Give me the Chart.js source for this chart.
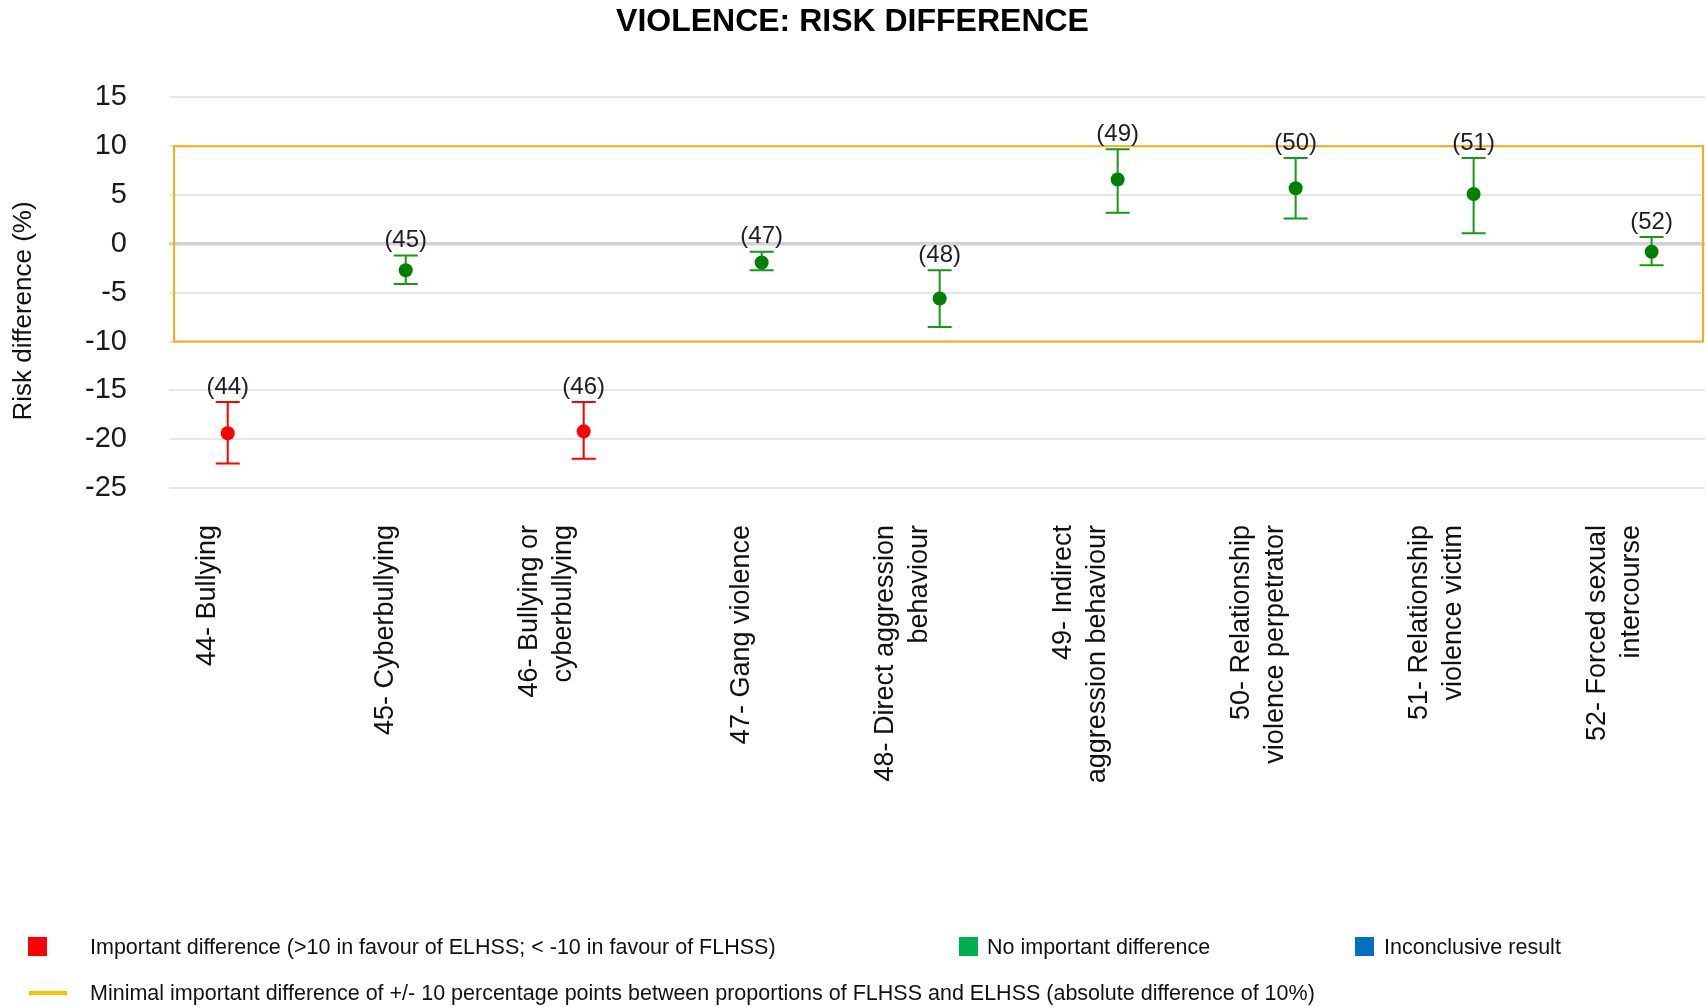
<!DOCTYPE html>
<html>
<head>
<meta charset="utf-8">
<title>Violence: risk difference</title>
<script src="https://cdn.jsdelivr.net/npm/chart.js@4"></script>
<style>
    body { margin: 0; background: #fff; }
    #wrap { width: 1705px; height: 1007px; position: relative; }
</style>
</head>
<body>
<div id="wrap"><canvas id="riskChart"></canvas></div>
<script>
// Indicadores de violencia (codigo + nombre, en varias lineas)
const codes = [44, 45, 46, 47, 48, 49, 50, 51, 52];
const names = [
    ['44- Bullying'],
    ['45- Cyberbullying'],
    ['46- Bullying or', 'cyberbullying'],
    ['47- Gang violence'],
    ['48- Direct aggression', 'behaviour'],
    ['49- Indirect', 'aggression behaviour'],
    ['50- Relationship', 'violence perpetrator'],
    ['51- Relationship', 'violence victim'],
    ['52- Forced sexual', 'intercourse']
];

// Diferencia de riesgo (%) con su intervalo de confianza
const riskDiff = [-19.4, -2.7, -19.2, -1.9, -5.6, 6.6, 5.7, 5.1, -0.8];
const ciLower  = [-22.5, -4.1, -22.0, -2.7, -8.5, 3.2, 2.6, 1.1, -2.2];
const ciUpper  = [-16.2, -1.2, -16.2, -0.8, -2.7, 9.7, 8.8, 8.8, 0.7];

const yTicks = [15, 10, 5, 0, -5, -10, -15, -20, -25];
const MID = 10; // diferencia minima importante (+/-)

const yTitle = 'Risk difference (%)';
const legendItems = [
    'Important difference (>10 in favour of ELHSS; < -10 in favour of FLHSS)',
    'No important difference',
    'Inconclusive result',
    'Minimal important difference of +/- 10 percentage points between proportions of FLHSS and ELHSS (absolute difference of 10%)'
];

const RED = '#ff0000';
const GREEN = '#159a15';
const GREEN_DOT = '#008000';
const FONT = "'Liberation Sans', Arial, sans-serif";

function statusColor(i, dot) {
    if (ciUpper[i] < -MID || ciLower[i] > MID) return RED;
    if (ciLower[i] >= -MID && ciUpper[i] <= MID) return dot ? GREEN_DOT : GREEN;
    return '#0070c0';
}

const points = codes.map((c, i) => ({ x: i, y: riskDiff[i] }));

// caja naranja +/- MID, barras de error y etiquetas (nn)
const intervalPlugin = {
    id: 'intervals',
    beforeDatasetsDraw(chart) {
        const { ctx, chartArea, scales: { x, y } } = chart;
        ctx.save();
        ctx.strokeStyle = '#ffab0f';
        ctx.lineWidth = 2;
        const top = y.getPixelForValue(MID);
        const bottom = y.getPixelForValue(-MID);
        ctx.strokeRect(chartArea.left + 5, top, chartArea.right - chartArea.left - 7, bottom - top);

        codes.forEach((c, i) => {
            const px = x.getPixelForValue(i);
            const yLo = y.getPixelForValue(ciLower[i]);
            const yHi = y.getPixelForValue(ciUpper[i]);
            ctx.strokeStyle = statusColor(i, false);
            ctx.lineWidth = 2;
            ctx.beginPath();
            ctx.moveTo(px, yHi); ctx.lineTo(px, yLo);
            ctx.moveTo(px - 12, yHi); ctx.lineTo(px + 12, yHi);
            ctx.moveTo(px - 12, yLo); ctx.lineTo(px + 12, yLo);
            ctx.stroke();

            ctx.fillStyle = '#1c1c2a';
            ctx.font = '24px ' + FONT;
            ctx.textAlign = 'center';
            ctx.textBaseline = 'middle';
            ctx.fillText('(' + c + ')', px, yHi - 15);
        });
        ctx.restore();
    },
    afterDraw(chart) {
        const { ctx, chartArea, scales: { x } } = chart;
        ctx.save();
        // titulo del eje Y
        ctx.fillStyle = '#111';
        ctx.font = '26px ' + FONT;
        ctx.textAlign = 'center';
        ctx.textBaseline = 'middle';
        ctx.save();
        ctx.translate(24, 311);
        ctx.rotate(-Math.PI / 2);
        ctx.fillText(yTitle, 0, 0);
        ctx.restore();

        // nombres de las categorias, rotados
        ctx.font = '27px ' + FONT;
        ctx.textAlign = 'right';
        names.forEach((lines, i) => {
            const px = x.getPixelForValue(i);
            lines.forEach((line, j) => {
                const lx = px - 20 - (lines.length - 1 - j) * 34;
                ctx.save();
                ctx.translate(lx, chartArea.bottom + 37);
                ctx.rotate(-Math.PI / 2);
                ctx.fillText(line, 0, 0);
                ctx.restore();
            });
        });

        // leyenda
        ctx.font = '21.5px ' + FONT;
        ctx.textAlign = 'left';
        const boxes = [[28, RED, 90], [959, '#00b050', 987], [1355, '#0070c0', 1384]];
        boxes.forEach(([bx, color, tx], k) => {
            ctx.fillStyle = color;
            ctx.fillRect(bx, 937, 19, 19);
            ctx.fillStyle = '#111';
            ctx.fillText(legendItems[k], tx, 948);
        });
        ctx.fillStyle = '#ffc000';
        ctx.fillRect(29, 991, 38, 4);
        ctx.fillStyle = '#111';
        ctx.fillText(legendItems[3], 90, 994);
        ctx.restore();
    }
};

const config = {
    type: 'scatter',
    data: {
        datasets: [{
            label: 'Risk difference',
            data: points,
            pointStyle: 'circle',
            pointRadius: 7,
            pointHoverRadius: 7,
            pointBackgroundColor: codes.map((c, i) => statusColor(i, true)),
            pointBorderWidth: 0
        }]
    },
    options: {
        responsive: true,
        maintainAspectRatio: false,
        animation: false,
        layout: {
            autoPadding: false,
            padding: { left: 0, right: 0, top: 0, bottom: 519 }
        },
        scales: {
            x: {
                type: 'linear',
                min: -0.33,
                max: 8.3,
                ticks: { display: false },
                grid: { display: false, drawTicks: false },
                border: { display: false }
            },
            y: {
                min: -25,
                max: 15,
                afterBuildTicks: (scale) => {
                    scale.ticks = yTicks.map(v => ({ value: v }));
                },
                afterFit: (scale) => {
                    scale.width = 169;
                },
                ticks: {
                    padding: 42,
                    color: '#1a1a1a',
                    font: { family: FONT, size: 29 }
                },
                grid: {
                    drawTicks: false,
                    color: (c) => c.tick && c.tick.value === 0 ? '#d2d2d2' : '#e6e6e6',
                    lineWidth: (c) => c.tick && c.tick.value === 0 ? 3.5 : 2
                },
                border: { display: false }
            }
        },
        plugins: {
            legend: { display: false },
            tooltip: { enabled: false },
            title: {
                display: true,
                text: 'VIOLENCE: RISK DIFFERENCE',
                color: '#000',
                font: { family: FONT, size: 32, weight: 'bold' },
                padding: { top: 3, bottom: 56 }
            }
        }
    },
    plugins: [intervalPlugin]
};

const ctx = document.getElementById('riskChart').getContext('2d');
const riskChart = new Chart(ctx, config);
</script>
</body>
</html>
